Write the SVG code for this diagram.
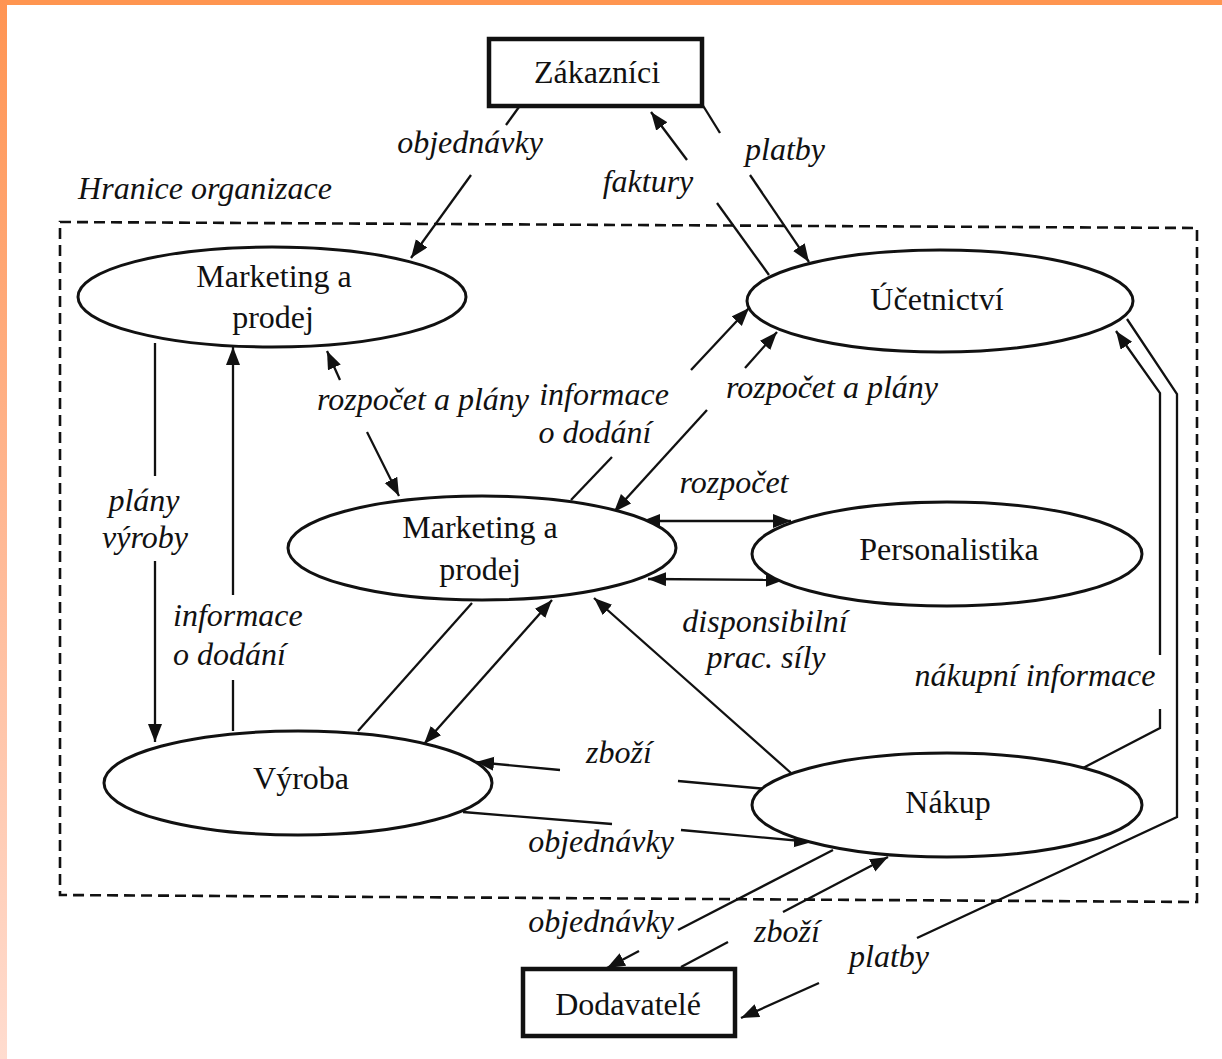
<svg xmlns="http://www.w3.org/2000/svg" width="1222" height="1059" viewBox="0 0 1222 1059">
<defs>
<linearGradient id="lb" x1="0" y1="0" x2="0" y2="1">
<stop offset="0" stop-color="#FF9452"/>
<stop offset="0.5" stop-color="#FFB894"/>
<stop offset="1" stop-color="#FFDCCF"/>
</linearGradient>
<marker id="ah" markerUnits="userSpaceOnUse" markerWidth="20" markerHeight="16" refX="18" refY="7" orient="auto-start-reverse">
<path d="M0,0 L18,7 L0,14 z" fill="#111"/>
</marker>
<style>
.node{fill:#fff;stroke:#111;stroke-width:3}
.box{fill:#fff;stroke:#111;stroke-width:4.5}
.nt{font-family:"Liberation Serif","Times New Roman",serif;font-size:32px;fill:#111;text-anchor:middle}
.lt{font-family:"Liberation Serif","Times New Roman",serif;font-size:32px;font-style:italic;fill:#111;text-anchor:middle}
.ln{fill:none;stroke:#111;stroke-width:2.3}
.ar{marker-end:url(#ah)}
.bi{marker-start:url(#ah);marker-end:url(#ah)}
.bd{fill:none;stroke:#111;stroke-width:2.6;stroke-dasharray:11 6}
</style>
</defs>
<rect x="0" y="0" width="1222" height="1059" fill="#fff"/>
<rect x="0" y="0" width="1222" height="5" fill="#FF9550"/>
<rect x="0" y="0" width="7" height="1059" fill="url(#lb)"/>

<g id="boundary">
<path class="bd" d="M60,222 L1197,228 L1197,902 L60,895 Z"/>
<text class="lt" x="205" y="199">Hranice organizace</text>
</g>

<g id="connectors">
<path class="ln" d="M519,107 L506,125"/>
<path class="ln ar" d="M471,175 L411,258"/>
<text class="lt" x="470" y="153">objednávky</text>

<path class="ln" d="M769,275 L717,203"/>
<path class="ln ar" d="M687,160 L651,112"/>
<text class="lt" x="648" y="192">faktury</text>

<path class="ln" d="M702,104 L720,133"/>
<path class="ln ar" d="M750,175 L809,262"/>
<text class="lt" x="785" y="160">platby</text>

<path class="ln" d="M155,343 L155,476"/>
<path class="ln ar" d="M155,561 L155,742"/>
<text class="lt" x="144" y="511">plány</text>
<text class="lt" x="145" y="548">výroby</text>

<path class="ln" d="M233,731 L233,680"/>
<path class="ln ar" d="M233,595 L233,347"/>
<text class="lt" x="173" y="626" style="text-anchor:start">informace</text>
<text class="lt" x="173" y="665" style="text-anchor:start">o dodání</text>

<path class="ln ar" d="M340,380 L327,351"/>
<path class="ln ar" d="M367,432 L399,496"/>
<text class="lt" x="423" y="410">rozpočet a plány</text>

<path class="ln" d="M358,731 L472,603"/>
<path class="ln" d="M571,500 L612,457"/>
<path class="ln ar" d="M691,370 L749,308"/>
<text class="lt" x="604" y="405">informace</text>
<text class="lt" x="595" y="443">o dodání</text>

<path class="ln ar" d="M745,368 L777,332"/>
<path class="ln ar" d="M707,410 L614,512"/>
<text class="lt" x="832" y="398">rozpočet a plány</text>

<path class="ln bi" d="M642,521 L791,521"/>
<text class="lt" x="734" y="493">rozpočet</text>

<path class="ln bi" d="M648,579 L784,580"/>
<text class="lt" x="765" y="632">disponsibilní</text>
<text class="lt" x="766" y="668">prac. síly</text>

<path class="ln bi" d="M552,600 L424,744"/>

<path class="ln ar" d="M791,773 L594,598"/>

<path class="ln" d="M767,789 L678,781"/>
<path class="ln ar" d="M560,770 L476,762"/>
<text class="lt" x="619" y="763">zboží</text>

<path class="ln" d="M463,812 L612,824"/>
<path class="ln ar" d="M681,830 L812,842"/>
<text class="lt" x="601" y="852">objednávky</text>

<path class="ln" d="M833,850 L678,930"/>
<path class="ln ar" d="M639,951 L607,968"/>
<text class="lt" x="601" y="932">objednávky</text>

<path class="ln" d="M681,967 L728,942"/>
<path class="ln ar" d="M783,912 L888,857"/>
<text class="lt" x="787" y="942">zboží</text>

<path class="ln" d="M1083,768 L1160,728 L1160,709"/>
<path class="ln ar" d="M1160,655 L1160,393 L1116,331"/>
<text class="lt" x="1035" y="686">nákupní informace</text>

<path class="ln" d="M1127,319 L1177,394 L1177,817 L917,938"/>
<path class="ln ar" d="M819,983 L741,1018"/>
<text class="lt" x="889" y="967">platby</text>
</g>

<g id="zakaznici">
<rect class="box" x="489" y="39" width="213" height="67"/>
<text class="nt" x="597" y="83">Zákazníci</text>
</g>
<g id="marketing1">
<ellipse class="node" cx="272" cy="297" rx="194" ry="50"/>
<text class="nt" x="274" y="287">Marketing a</text>
<text class="nt" x="273" y="328">prodej</text>
</g>
<g id="ucetnictvi">
<ellipse class="node" cx="940" cy="301" rx="193" ry="51"/>
<text class="nt" x="937" y="310">Účetnictví</text>
</g>
<g id="marketing2">
<ellipse class="node" cx="482" cy="548" rx="194" ry="52"/>
<text class="nt" x="480" y="538">Marketing a</text>
<text class="nt" x="480" y="580">prodej</text>
</g>
<g id="personalistika">
<ellipse class="node" cx="947" cy="554" rx="195" ry="52"/>
<text class="nt" x="949" y="560">Personalistika</text>
</g>
<g id="vyroba">
<ellipse class="node" cx="298" cy="783" rx="194" ry="52"/>
<text class="nt" x="301" y="789">Výroba</text>
</g>
<g id="nakup">
<ellipse class="node" cx="947" cy="805" rx="195" ry="52"/>
<text class="nt" x="948" y="813">Nákup</text>
</g>
<g id="dodavatele">
<rect class="box" x="523" y="969" width="212" height="67"/>
<text class="nt" x="628" y="1015">Dodavatelé</text>
</g>
</svg>
